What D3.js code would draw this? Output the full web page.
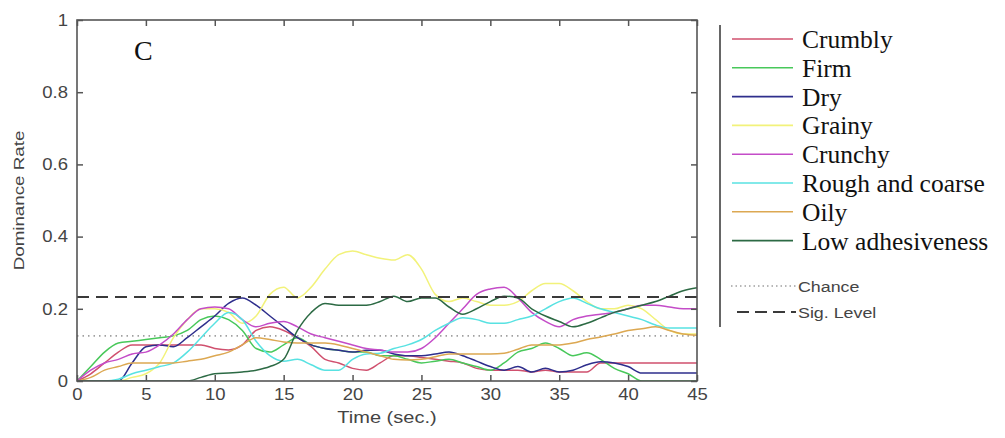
<!DOCTYPE html>
<html>
<head>
<meta charset="utf-8">
<script src="https://cdn.jsdelivr.net/npm/d3@7"></script>
<style>
	body { margin: 0; background: #fff; }
	svg { display: block; }
	.sans { font-family: "Liberation Sans", Arial, sans-serif; fill: #444; }
	.serif { font-family: "Liberation Serif", "Times New Roman", serif; fill: #111; }
</style>
</head>
<body>
<svg id="chart" width="1005" height="438"></svg>
<script>
	// time grid, one sample per second
	var time = d3.range(0, 46);

	var crumbly = [0, 0.02, 0.05, 0.08, 0.1, 0.1, 0.1, 0.1, 0.1, 0.1, 0.09, 0.086, 0.1, 0.14, 0.15, 0.14,
		0.12, 0.095, 0.06, 0.05, 0.035, 0.03, 0.05, 0.07, 0.07, 0.065, 0.06, 0.055, 0.05, 0.035, 0.03,
		0.03, 0.03, 0.025, 0.03, 0.025, 0.025, 0.025, 0.05, 0.05, 0.05, 0.05, 0.05, 0.05, 0.05, 0.05];
	var firm = [0, 0.04, 0.08, 0.105, 0.11, 0.115, 0.12, 0.125, 0.14, 0.17, 0.18, 0.17, 0.14, 0.09, 0.08, 0.1,
		0.12, 0.1, 0.09, 0.085, 0.08, 0.08, 0.07, 0.07, 0.06, 0.05, 0.055, 0.06, 0.05, 0.04, 0.03,
		0.05, 0.08, 0.09, 0.105, 0.09, 0.07, 0.078, 0.06, 0.035, 0.02, 0, 0, 0, 0, 0];
	var dry = [0, 0, 0, 0, 0.05, 0.095, 0.1, 0.095, 0.12, 0.15, 0.18, 0.215, 0.23, 0.21, 0.18, 0.15,
		0.12, 0.1, 0.09, 0.085, 0.08, 0.085, 0.085, 0.075, 0.07, 0.07, 0.075, 0.08, 0.07, 0.055, 0.04,
		0.03, 0.04, 0.025, 0.035, 0.025, 0.03, 0.045, 0.053, 0.05, 0.04, 0.022, 0.022, 0.022, 0.022, 0.022];
	var grainy = [0, 0, 0, 0, 0.01, 0.02, 0.05, 0.12, 0.17, 0.2, 0.2, 0.19, 0.16, 0.18, 0.24, 0.26,
		0.23, 0.26, 0.31, 0.35, 0.36, 0.35, 0.34, 0.335, 0.35, 0.31, 0.24, 0.22, 0.23, 0.22, 0.21,
		0.21, 0.22, 0.25, 0.27, 0.27, 0.25, 0.22, 0.2, 0.2, 0.21, 0.2, 0.17, 0.14, 0.13, 0.13];
	var crunchy = [0, 0.03, 0.05, 0.06, 0.075, 0.08, 0.1, 0.13, 0.17, 0.2, 0.205, 0.2, 0.17, 0.15, 0.16, 0.165,
		0.15, 0.13, 0.12, 0.11, 0.1, 0.09, 0.086, 0.08, 0.08, 0.09, 0.12, 0.16, 0.2, 0.24, 0.255,
		0.26, 0.23, 0.19, 0.165, 0.15, 0.17, 0.18, 0.185, 0.19, 0.2, 0.21, 0.21, 0.205, 0.2, 0.2];
	var rough = [0, 0, 0, 0.005, 0.02, 0.03, 0.04, 0.05, 0.08, 0.12, 0.16, 0.19, 0.17, 0.11, 0.07, 0.055,
		0.06, 0.045, 0.03, 0.03, 0.06, 0.075, 0.077, 0.09, 0.1, 0.115, 0.14, 0.16, 0.175, 0.17, 0.16,
		0.16, 0.17, 0.18, 0.2, 0.22, 0.23, 0.215, 0.2, 0.19, 0.18, 0.17, 0.155, 0.147, 0.147, 0.147];
	var oily = [0, 0.01, 0.03, 0.04, 0.05, 0.05, 0.05, 0.05, 0.055, 0.06, 0.07, 0.08, 0.1, 0.12, 0.115, 0.108,
		0.105, 0.105, 0.105, 0.1, 0.09, 0.08, 0.07, 0.06, 0.058, 0.06, 0.067, 0.075, 0.075, 0.075, 0.075,
		0.077, 0.088, 0.1, 0.1, 0.1, 0.105, 0.115, 0.122, 0.13, 0.14, 0.145, 0.15, 0.14, 0.13, 0.127];
	var lowAdhesiveness = [0, 0, 0, 0, 0, 0, 0, 0, 0, 0.01, 0.02, 0.022, 0.025, 0.03, 0.04, 0.06,
		0.14, 0.19, 0.215, 0.21, 0.21, 0.21, 0.22, 0.235, 0.22, 0.23, 0.23, 0.205, 0.185, 0.2, 0.22,
		0.235, 0.23, 0.2, 0.18, 0.165, 0.15, 0.16, 0.175, 0.19, 0.2, 0.21, 0.22, 0.235, 0.25, 0.258];

	var seriesNames = ['Crumbly', 'Firm', 'Dry', 'Grainy', 'Crunchy', 'Rough and coarse', 'Oily', 'Low adhesiveness'];
	var seriesValues = [crumbly, firm, dry, grainy, crunchy, rough, oily, lowAdhesiveness];
	var seriesColors = ['#d0506e', '#48c85a', '#2e2e8c', '#f2f27a', '#c44cc8', '#58e2e2', '#dca852', '#2c6a44'];

	var chanceLevel = 0.125;
	var sigLevel = 0.233;
	var xTicks = [0, 5, 10, 15, 20, 25, 30, 35, 40, 45];
	var yTicks = [0, 0.2, 0.4, 0.6, 0.8, 1];
	var yTickLabels = ['0', '0.2', '0.4', '0.6', '0.8', '1'];

	var margin = { left: 77, right: 697, top: 20, bottom: 381 };
	var svg = d3.select('#chart');

	var x = d3.scaleLinear().domain([0, 45]).range([margin.left, margin.right]);
	var y = d3.scaleLinear().domain([0, 1]).range([margin.bottom, margin.top]);

	// widen the sans labels a bit, like the original picture
	function stretch(sel, k) {
		sel.each(function() {
			var w = this.getComputedTextLength();
			this.setAttribute('textLength', w * k);
			this.setAttribute('lengthAdjust', 'spacingAndGlyphs');
		});
	}

	svg.append('clipPath').attr('id', 'plotClip')
		.append('rect')
		.attr('x', margin.left).attr('y', margin.top - 2)
		.attr('width', margin.right - margin.left).attr('height', margin.bottom - margin.top + 2);

	var plot = svg.append('g').attr('clip-path', 'url(#plotClip)');

	// reference lines
	plot.append('line')
		.attr('x1', x(0)).attr('x2', x(45))
		.attr('y1', y(chanceLevel)).attr('y2', y(chanceLevel))
		.attr('stroke', '#a0a0a0').attr('stroke-width', 1.6)
		.attr('stroke-dasharray', '1.5 4');

	var line = d3.line()
		.x(function(d, i) { return x(time[i]); })
		.y(function(d) { return y(d); })
		.curve(d3.curveMonotoneX);

	plot.selectAll('path.series')
		.data(seriesValues)
		.enter()
		.append('path')
		.attr('class', 'series')
		.attr('d', line)
		.attr('fill', 'none')
		.attr('stroke', function(d, i) { return seriesColors[i]; })
		.attr('stroke-width', 1.5);

	plot.append('line')
		.attr('x1', x(0)).attr('x2', x(45))
		.attr('y1', y(sigLevel)).attr('y2', y(sigLevel))
		.attr('stroke', '#3a3a3a').attr('stroke-width', 2)
		.attr('stroke-dasharray', '12 7');

	// axes, matlab style: box with inward ticks on every side
	var axisColor = '#555';
	var bottomAxis = svg.append('g')
		.attr('transform', 'translate(0,' + margin.bottom + ')')
		.call(d3.axisBottom(x).tickValues(xTicks).tickSizeInner(-6).tickSizeOuter(0).tickPadding(7));
	var topAxis = svg.append('g')
		.attr('transform', 'translate(0,' + margin.top + ')')
		.call(d3.axisTop(x).tickValues(xTicks).tickSizeInner(-6).tickSizeOuter(0).tickFormat(''));
	var leftAxis = svg.append('g')
		.attr('transform', 'translate(' + margin.left + ',0)')
		.call(d3.axisLeft(y).tickValues(yTicks).tickSizeInner(-6).tickSizeOuter(0).tickPadding(9)
			.tickFormat(function(d, i) { return yTickLabels[i]; }));
	var rightAxis = svg.append('g')
		.attr('transform', 'translate(' + margin.right + ',0)')
		.call(d3.axisRight(y).tickValues(yTicks).tickSizeInner(-6).tickSizeOuter(0).tickFormat(''));

	[bottomAxis, topAxis, leftAxis, rightAxis].forEach(function(ax) {
		ax.select('.domain').remove();
		ax.selectAll('.tick line').attr('stroke', axisColor).attr('stroke-width', 1.5);
		ax.selectAll('.tick text')
			.attr('class', 'sans')
			.style('font-size', '16.5px')
			.attr('fill', '#444');
	});
	stretch(bottomAxis.selectAll('.tick text'), 1.12);
	stretch(leftAxis.selectAll('.tick text'), 1.12);

	svg.append('rect')
		.attr('x', margin.left).attr('y', margin.top)
		.attr('width', margin.right - margin.left).attr('height', margin.bottom - margin.top)
		.attr('fill', 'none').attr('stroke', axisColor).attr('stroke-width', 1.6);

	// axis titles
	var xTitle = svg.append('text')
		.attr('class', 'sans')
		.attr('x', (margin.left + margin.right) / 2).attr('y', 423)
		.attr('text-anchor', 'middle')
		.style('font-size', '16px')
		.text('Time (sec.)');
	stretch(xTitle, 1.25);

	var yTitle = svg.append('text')
		.attr('class', 'sans')
		.attr('transform', 'translate(24,' + ((margin.top + margin.bottom) / 2) + ') rotate(-90)')
		.attr('text-anchor', 'middle')
		.style('font-size', '15px')
		.text('Dominance Rate');
	stretch(yTitle, 1.25);

	// panel letter
	svg.append('text')
		.attr('class', 'serif')
		.attr('x', 134).attr('y', 60)
		.style('font-size', '28px')
		.text('C');

	// legend
	var legend = svg.append('g');
	legend.append('line')
		.attr('x1', 720).attr('x2', 720)
		.attr('y1', 25).attr('y2', 327)
		.attr('stroke', '#666').attr('stroke-width', 2);

	var rowY = function(i) { return 48 + i * 28.8; };
	var rows = legend.selectAll('g.row')
		.data(seriesNames)
		.enter()
		.append('g')
		.attr('class', 'row');
	rows.append('line')
		.attr('x1', 732).attr('x2', 793)
		.attr('y1', function(d, i) { return rowY(i) - 9; })
		.attr('y2', function(d, i) { return rowY(i) - 9; })
		.attr('stroke', function(d, i) { return seriesColors[i]; })
		.attr('stroke-width', 1.6);
	rows.append('text')
		.attr('class', 'serif')
		.attr('x', 802)
		.attr('y', function(d, i) { return rowY(i); })
		.style('font-size', '25.5px')
		.text(function(d) { return d; });

	legend.append('line')
		.attr('x1', 731).attr('x2', 796)
		.attr('y1', 286).attr('y2', 286)
		.attr('stroke', '#a0a0a0').attr('stroke-width', 1.6)
		.attr('stroke-dasharray', '1.5 3');
	var chanceText = legend.append('text')
		.attr('class', 'sans')
		.attr('x', 798).attr('y', 292)
		.style('font-size', '15.5px')
		.text('Chance');
	stretch(chanceText, 1.15);

	legend.append('line')
		.attr('x1', 737).attr('x2', 796)
		.attr('y1', 312).attr('y2', 312)
		.attr('stroke', '#3a3a3a').attr('stroke-width', 2)
		.attr('stroke-dasharray', '12 6');
	var sigText = legend.append('text')
		.attr('class', 'sans')
		.attr('x', 798).attr('y', 318)
		.style('font-size', '15.5px')
		.text('Sig. Level');
	stretch(sigText, 1.15);
</script>
</body>
</html>
